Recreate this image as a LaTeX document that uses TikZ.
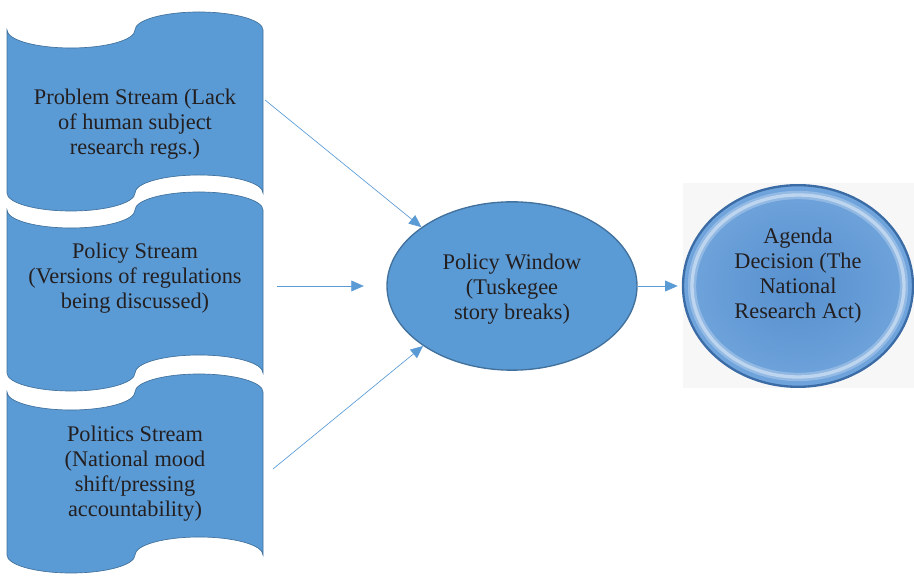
\documentclass[tikz,border=0pt]{standalone}
\usepackage{fontspec}
\setmainfont{Liberation Serif}
\usetikzlibrary{shapes.geometric,arrows.meta}
\definecolor{accent}{RGB}{91,155,213}
\definecolor{accentdark}{RGB}{65,113,156}
\definecolor{inktext}{RGB}{35,31,32}
\begin{document}
\begin{tikzpicture}[x=0.6pt,y=-0.6pt]
      \tikzstyle{stream} = [draw=accentdark, fill=accent, thin]
      \tikzstyle{streamtext} = [text=inktext, align=center, font=\rmfamily\fontsize{13.4}{15}\selectfont]
      \tikzstyle{flow} = [accent, thin, -{Triangle[length=7.5pt,width=6.5pt]}]
      \useasboundingbox (0,0) rectangle (914,580);
      % the three streams
      \foreach \yt in {30,210,392}{
        \pgfmathsetmacro{\yb}{\yt + 163}
        \draw[stream] (7,\yt) arc[start angle=180, end angle=0, x radius=64, y radius=18]
          arc[start angle=180, end angle=360, x radius=64, y radius=18]
          -- (263,\yb) arc[start angle=0, end angle=-180, x radius=64, y radius=18]
          arc[start angle=0, end angle=180, x radius=64, y radius=18] -- cycle;
      }
      \node[streamtext] (probtext) at (135,124) {Problem Stream (Lack\\of human subject\\research regs.)};
      \node[streamtext] (poltext) at (135,278) {Policy Stream\\(Versions of regulations\\being discussed)};
      \node[streamtext] (polittext) at (135,474) {Politics Stream\\(National mood\\shift/pressing\\accountability)};
      \coordinate (probedge) at (265,100);
      \coordinate (poledge) at (277,286);
      \coordinate (politedge) at (273,469);
      % window and decision
      \node[draw=accentdark, fill=accent, ellipse, thick, inner sep=0pt,
        minimum width=150pt, minimum height=101pt] (win) at (512,286) {};
      \node[streamtext] (wintext) at (512,289) {Policy Window\\(Tuskegee\\story breaks)};
      \fill[black!3] (683,183) rectangle (914,388);
      \node[ellipse, inner sep=0pt, minimum width=138pt, minimum height=121pt,
        draw={rgb,255:red,60;green,108;blue,165}, line width=1.4pt,
        inner color={rgb,255:red,86;green,144;blue,206},
        outer color={rgb,255:red,112;green,164;blue,220},
        path picture={
          \draw[white, opacity=.25, line width=5pt]
            (path picture bounding box.center) ellipse [x radius=106, y radius=91];
          \draw[white, opacity=.4, line width=2pt]
            (path picture bounding box.center) ellipse [x radius=106, y radius=91];}]
        (agenda) at (798,286) {};
      \node[streamtext] (agendatext) at (798,276) {Agenda\\Decision (The\\National\\Research Act)};
      % arrows
      \draw[flow] (probedge) -- (win.147);
      \draw[flow] (poledge) -- ([xshift=-13.5pt]win.west);
      \draw[flow] (politedge) -- (win.214);
      \draw[flow, shorten >=2.5pt] (win.east) -- (agenda.west);
\end{tikzpicture}
\end{document}
